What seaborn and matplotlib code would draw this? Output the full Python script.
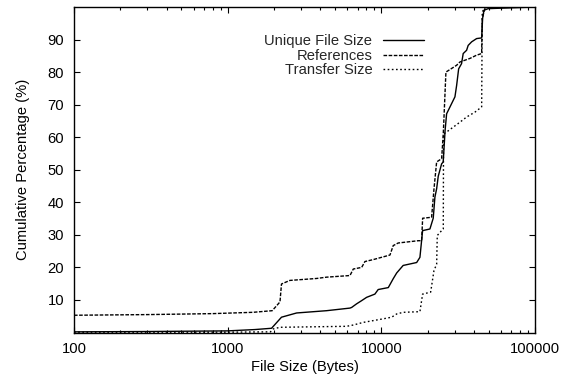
import matplotlib
matplotlib.use("Agg")
import matplotlib.pyplot as plt
from matplotlib.ticker import LogLocator, FixedLocator, NullFormatter
import numpy as np
import pandas as pd
import seaborn as sns

# Cumulative distributions of web object sizes (bytes -> cumulative %)
unique_size = [100, 300, 1000, 1500, 1930, 2240, 2810, 4400, 6250, 6410, 6900,
               7450, 8020, 9080, 9540, 11100, 11940, 12590, 13870, 16980, 17830,
               18560, 20710, 21760, 22320, 22910, 23460, 24670, 25270, 26000,
               26600, 30130, 30900, 31850, 33270, 34100, 35880, 36740, 38700,
               41700, 44960, 45620, 46540, 49620, 100000]
unique_pct = [0.2, 0.3, 0.5, 0.9, 1.3, 4.7, 6.0, 6.7, 7.5, 7.7, 8.8,
              9.8, 10.8, 11.8, 13.2, 13.8, 16.5, 18.3, 20.6, 21.5, 23.1,
              31.3, 31.8, 35.1, 41.6, 44.2, 48.0, 51.8, 52.4, 62.1,
              67.2, 72.4, 75.9, 81.0, 82.6, 85.7, 86.7, 88.2, 89.3,
              90.3, 90.5, 96.5, 99.0, 99.5, 100.0]

ref_size = [100, 300, 800, 1460, 1950, 2190, 2240, 2540, 3790, 4400, 6250,
            6570, 7450, 7820, 8860, 11380, 11950, 12880, 17380, 18290, 18570,
            21240, 22000, 22900, 24680, 25300, 26320, 30900, 32450, 37700,
            41680, 44960, 45360, 47200, 48650, 100000]
ref_pct = [5.3, 5.5, 5.8, 6.2, 6.7, 9.4, 14.9, 16.0, 16.6, 17.0, 17.5,
           19.5, 20.0, 21.8, 22.4, 23.8, 26.7, 27.5, 28.2, 28.2, 35.1,
           35.4, 44.0, 52.4, 53.4, 61.0, 80.0, 82.1, 83.1, 84.2,
           85.2, 85.7, 96.5, 99.5, 100.0, 100.0]

xfer_size = [100, 1000, 1900, 1980, 2190, 5940, 6570, 7620, 10280, 11670,
             12590, 13870, 17830, 18560, 20940, 22000, 22910, 23120, 24670,
             25300, 25400, 26600, 29380, 32450, 35880, 40650, 44960, 45360,
             47200, 48600, 100000]
xfer_pct = [0.1, 0.1, 0.2, 1.1, 1.6, 1.9, 2.3, 3.1, 4.2, 4.7,
            5.7, 6.2, 6.4, 11.8, 12.4, 19.0, 21.0, 29.8, 31.3,
            31.8, 61.0, 61.6, 63.1, 64.6, 66.2, 67.7, 69.3, 98.5,
            99.7, 100.0, 100.0]

series_names = ["Unique File Size", "References", "Transfer Size"]
y_ticks = [10, 20, 30, 40, 50, 60, 70, 80, 90]
x_ticks = [100, 1000, 10000, 100000]
x_tick_labels = ["100", "1000", "10000", "100000"]

df = pd.concat([
    pd.DataFrame({"size": unique_size, "pct": unique_pct, "series": series_names[0]}),
    pd.DataFrame({"size": ref_size, "pct": ref_pct, "series": series_names[1]}),
    pd.DataFrame({"size": xfer_size, "pct": xfer_pct, "series": series_names[2]}),
], ignore_index=True)

sns.set_theme(style="ticks")
plt.rcParams["font.family"] = ["Liberation Sans", "DejaVu Sans"]
plt.rcParams["lines.scale_dashes"] = False
FS = 10.6

fig = plt.figure(figsize=(5.74, 3.85), dpi=100)
ax = fig.add_axes([74 / 574, 1 - 332.5 / 385, (535 - 74) / 574, (332.5 - 7) / 385])

dash_styles = {
    "Unique File Size": "",
    "References": (2.6, 1.1),
    "Transfer Size": (1.2, 1.8),
}
sns.lineplot(data=df, x="size", y="pct", style="series", style_order=series_names,
             dashes=dash_styles, color="black", linewidth=1.0,
             estimator=None, sort=False, legend=False, ax=ax)

ax.set_xscale("log")
ax.set_xlim(100, 100000)
ax.set_ylim(0, 100)

ax.xaxis.set_major_locator(FixedLocator(x_ticks))
ax.set_xticklabels(x_tick_labels)
ax.xaxis.set_minor_locator(LogLocator(base=10, subs=np.arange(2, 10)))
ax.xaxis.set_minor_formatter(NullFormatter())
ax.set_yticks(y_ticks)
ax.set_yticklabels([str(v) for v in y_ticks])

ax.tick_params(axis="both", which="both", direction="in", top=True, right=True,
               colors="black", labelsize=FS, width=0.8)
ax.tick_params(axis="both", which="major", length=4.0)
ax.tick_params(axis="both", which="minor", length=2.2)
ax.tick_params(axis="x", which="major", pad=7)
ax.tick_params(axis="y", which="major", pad=7)
for sp in ax.spines.values():
    sp.set_visible(True)
    sp.set_color("black")
    sp.set_linewidth(1.0)
ax.grid(False)

ax.set_xlabel("File Size (Bytes)", fontsize=FS, labelpad=3, color="black")
ax.set_ylabel("Cumulative Percentage (%)", fontsize=FS, labelpad=13, color="black")

handles = ax.lines[:3]
leg = ax.legend(handles, series_names, loc="upper right",
                bbox_to_anchor=(424 / 574, 1 - 34 / 385),
                bbox_transform=fig.transFigure, frameon=False,
                markerfirst=False, fontsize=FS, handlelength=2.8,
                handletextpad=0.7, labelspacing=0.05, borderpad=0,
                borderaxespad=0)

fig.savefig("out.png", dpi=100, facecolor="white")
